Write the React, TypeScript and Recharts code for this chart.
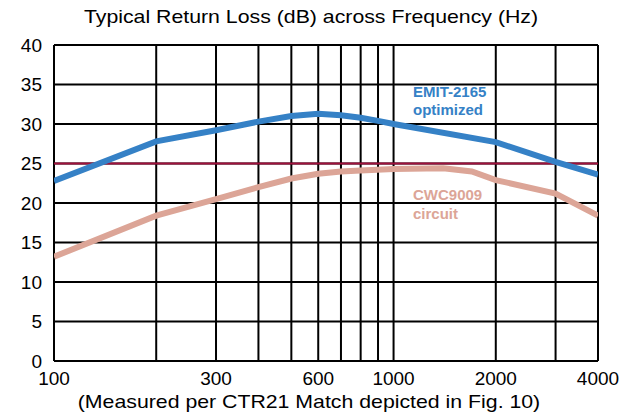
import { LineChart, Line, XAxis, YAxis, CartesianGrid, ReferenceLine } from "recharts";

const xTicks = [100, 300, 600, 1000, 2000, 4000];
const gridFreqs = [100, 200, 300, 400, 500, 600, 700, 800, 900, 1000, 2000, 3000, 4000];
const yTicks = [0, 5, 10, 15, 20, 25, 30, 35, 40];

const emitFreqs = [100, 200, 300, 400, 500, 600, 700, 800, 900, 1000, 2000, 3000, 4000];
const emitValues = [22.8, 27.8, 29.2, 30.3, 31.0, 31.3, 31.1, 30.8, 30.4, 30.0, 27.7, 25.2, 23.6];

const cwcFreqs = [100, 200, 300, 400, 500, 600, 700, 800, 1000, 1400, 1700, 2000, 3000, 4000];
const cwcValues = [13.2, 18.4, 20.5, 22.0, 23.1, 23.7, 24.0, 24.1, 24.3, 24.4, 24.0, 22.9, 21.2, 18.4];

const limit = 25;

const emitData = emitFreqs.map((f, i) => ({ f, v: emitValues[i] }));
const cwcData = cwcFreqs.map((f, i) => ({ f, v: cwcValues[i] }));

const font = "'Liberation Sans', Arial, sans-serif";
const tickStyle = { fill: "#000", fontSize: 19, fontFamily: font };

// titles are a bit wider than plain Arial in the original
const captionStyle = {
    position: "absolute" as const,
    width: 632,
    textAlign: "center" as const,
    fontSize: 19,
    lineHeight: "26px",
    transform: "scaleX(1.12)",
};

export default function App() {
    return (
        <div style={{ position: "relative", width: 632, height: 417, fontFamily: font, background: "#fff" }}>
            <style>{"body{margin:0}"}</style>
            <div style={{ ...captionStyle, left: -5, top: 4 }}>Typical Return Loss (dB) across Frequency (Hz)</div>
            <LineChart width={632} height={417} margin={{ top: 45, right: 34, bottom: 26, left: 0 }}>
                <CartesianGrid vertical={false} stroke="#000" strokeWidth={2} />
                {gridFreqs.map((f) => (
                    <ReferenceLine key={f} x={f} stroke="#000" strokeWidth={2} />
                ))}
                <XAxis
                    dataKey="f"
                    type="number"
                    scale="log"
                    domain={[100, 4000]}
                    ticks={xTicks}
                    allowDataOverflow
                    axisLine={false}
                    tickLine={false}
                    tickMargin={5}
                    tick={tickStyle}
                    interval={0}
                />
                <YAxis
                    width={54}
                    domain={[0, 40]}
                    ticks={yTicks}
                    axisLine={false}
                    tickLine={false}
                    tickMargin={6}
                    tick={tickStyle}
                    interval={0}
                />
                <ReferenceLine y={limit} stroke="#a0103c" strokeWidth={2} />
                <Line data={cwcData} dataKey="v" type="linear" stroke="#dca597" strokeWidth={6} dot={false} isAnimationActive={false} />
                <Line data={emitData} dataKey="v" type="linear" stroke="#3581c6" strokeWidth={6} dot={false} isAnimationActive={false} />
            </LineChart>
            <div style={{ position: "absolute", left: 413, top: 83, color: "#3581c6", fontWeight: "bold", fontSize: 15, lineHeight: "18px" }}>
                EMIT-2165
                <br />
                optimized
            </div>
            <div style={{ position: "absolute", left: 413, top: 185, color: "#dca597", fontWeight: "bold", fontSize: 15, lineHeight: "19px" }}>
                CWC9009
                <br />
                circuit
            </div>
            <div style={{ ...captionStyle, left: -7, top: 389 }}>(Measured per CTR21 Match depicted in Fig. 10)</div>
        </div>
    );
}
